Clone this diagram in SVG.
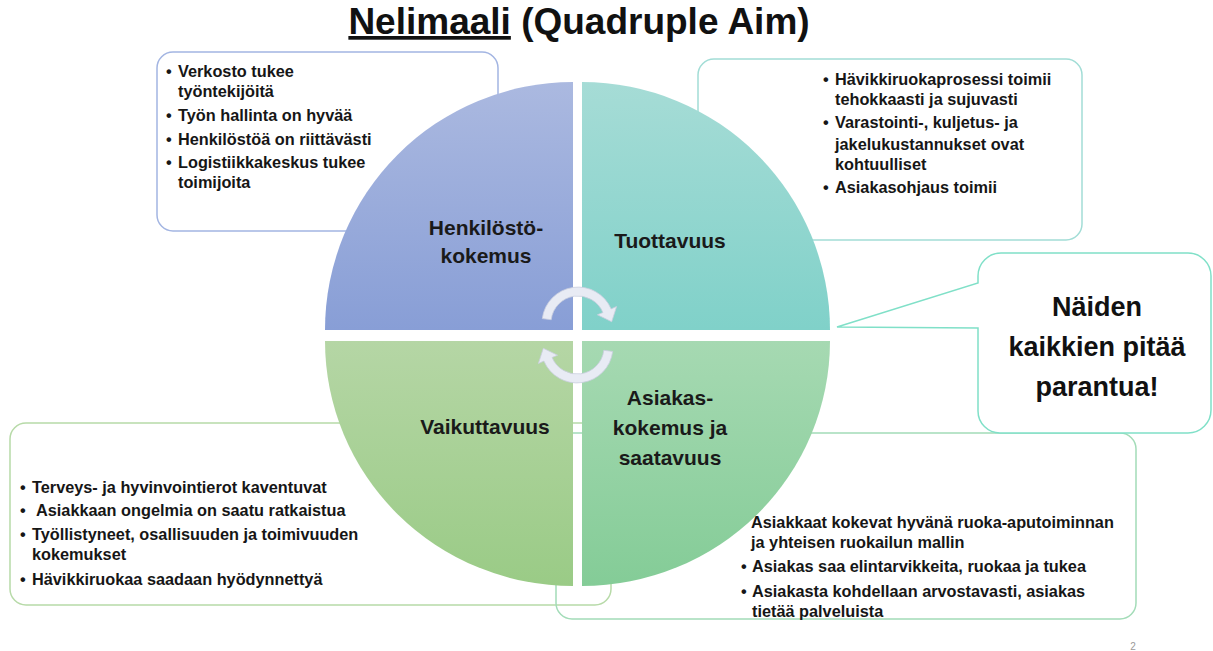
<svg xmlns="http://www.w3.org/2000/svg" width="1213" height="651" viewBox="0 0 1213 651">
<style>
  .box { fill: none; stroke-width: 1.5; }
  .t { font-family: "Liberation Sans", Arial, sans-serif; font-weight: bold; font-size: 16.3px; fill: #161616; }
  .lab { font-family: "Liberation Sans", Arial, sans-serif; font-weight: bold; font-size: 21px; fill: #1a1a1a; text-anchor: middle; }
  .arrow { fill: #e8ebf4; stroke: #c9cede; stroke-width: 0.8; }
</style>
<defs>
  <linearGradient id="gTL" x1="0" y1="0" x2="0" y2="1">
    <stop offset="0" stop-color="#abb9e0"/>
    <stop offset="1" stop-color="#889ed6"/>
  </linearGradient>
  <linearGradient id="gTR" x1="0" y1="0" x2="0" y2="1">
    <stop offset="0" stop-color="#a6dcd6"/>
    <stop offset="1" stop-color="#80d1c9"/>
  </linearGradient>
  <linearGradient id="gBL" x1="0" y1="0" x2="0" y2="1">
    <stop offset="0" stop-color="#b5d6a5"/>
    <stop offset="1" stop-color="#9acb86"/>
  </linearGradient>
  <linearGradient id="gBR" x1="0" y1="0" x2="0" y2="1">
    <stop offset="0" stop-color="#a6d9b2"/>
    <stop offset="1" stop-color="#84cc97"/>
  </linearGradient>
</defs>
<rect width="1213" height="651" fill="#ffffff"/>

<g id="title">
  <text x="579" y="34" text-anchor="middle" font-family="'Liberation Sans', Arial, sans-serif" font-weight="bold" font-size="37" fill="#111"><tspan text-decoration="underline">Nelimaali</tspan> (Quadruple Aim)</text>
</g>

<g id="box-henkilosto">
  <rect class="box" x="157" y="52" width="341" height="179" rx="16" stroke="#a3b5e2"/>
  <text class="t" x="166" y="77">•</text><text class="t" x="178" y="77">Verkosto tukee</text>
  <text class="t" x="178" y="97">työntekijöitä</text>
  <text class="t" x="166" y="121">•</text><text class="t" x="178" y="121">Työn hallinta on hyvää</text>
  <text class="t" x="166" y="145">•</text><text class="t" x="178" y="145">Henkilöstöä on riittävästi</text>
  <text class="t" x="166" y="168">•</text><text class="t" x="178" y="168">Logistiikkakeskus tukee</text>
  <text class="t" x="178" y="188">toimijoita</text>
</g>

<g id="box-tuottavuus">
  <rect class="box" x="698" y="59" width="384" height="181" rx="16" stroke="#a2ddd6"/>
  <text class="t" x="823" y="85">•</text><text class="t" x="835" y="85">Hävikkiruokaprosessi toimii</text>
  <text class="t" x="835" y="105">tehokkaasti ja sujuvasti</text>
  <text class="t" x="823" y="128">•</text><text class="t" x="835" y="128">Varastointi-, kuljetus- ja</text>
  <text class="t" x="835" y="150">jakelukustannukset ovat</text>
  <text class="t" x="835" y="170">kohtuulliset</text>
  <text class="t" x="823" y="193">•</text><text class="t" x="835" y="193">Asiakasohjaus toimii</text>
</g>

<g id="box-vaikuttavuus">
  <rect class="box" x="10" y="423" width="601" height="182" rx="16" stroke="#b7daa8"/>
  <text class="t" x="20" y="493">•</text><text class="t" x="32" y="493">Terveys- ja hyvinvointierot kaventuvat</text>
  <text class="t" x="20" y="516">•</text><text class="t" x="36" y="516">Asiakkaan ongelmia on saatu ratkaistua</text>
  <text class="t" x="20" y="540">•</text><text class="t" x="32" y="540">Työllistyneet, osallisuuden ja toimivuuden</text>
  <text class="t" x="32" y="560">kokemukset</text>
  <text class="t" x="20" y="585">•</text><text class="t" x="32" y="585">Hävikkiruokaa saadaan hyödynnettyä</text>
</g>

<g id="box-asiakaskokemus">
  <rect class="box" x="556" y="433" width="580" height="186" rx="16" stroke="#a3dcb8"/>
  <text class="t" x="751" y="528">Asiakkaat kokevat hyvänä ruoka-aputoiminnan</text>
  <text class="t" x="751" y="548">ja yhteisen ruokailun mallin</text>
  <text class="t" x="741" y="572">•</text><text class="t" x="752" y="572">Asiakas saa elintarvikkeita, ruokaa ja tukea</text>
  <text class="t" x="741" y="597">•</text><text class="t" x="752" y="597">Asiakasta kohdellaan arvostavasti, asiakas</text>
  <text class="t" x="752" y="617">tietää palveluista</text>
</g>

<g id="q-henkilosto">
  <path d="M573 330 L325 330 A248 248 0 0 1 573 82 Z" fill="url(#gTL)"/>
  <text class="lab" x="486" y="235">Henkilöstö-</text>
  <text class="lab" x="486" y="263">kokemus</text>
</g>
<g id="q-tuottavuus">
  <path d="M582 330 L582 82 A248 248 0 0 1 830 330 Z" fill="url(#gTR)"/>
  <text class="lab" x="670" y="248">Tuottavuus</text>
</g>
<g id="q-vaikuttavuus">
  <path d="M573 341 L573 586 A248 245 0 0 1 325 341 Z" fill="url(#gBL)"/>
  <text class="lab" x="485" y="434">Vaikuttavuus</text>
</g>
<g id="q-asiakaskokemus">
  <path d="M582 341 L830 341 A248 245 0 0 1 582 586 Z" fill="url(#gBR)"/>
  <text class="lab" x="670" y="405">Asiakas-</text>
  <text class="lab" x="670" y="435">kokemus ja</text>
  <text class="lab" x="670" y="465">saatavuus</text>
</g>

<g id="cycle-arrows">
  <path class="arrow" d="M542.3 318.6 A36 36 0 0 1 611.1 308.9 L616.6 306.5 L611.7 321.7 L597.4 314.8 L602.9 312.5 A27 27 0 0 0 551.2 319.7 Z"/>
  <path class="arrow" transform="rotate(180 577.5 335)" d="M542.3 318.6 A36 36 0 0 1 611.1 308.9 L616.6 306.5 L611.7 321.7 L597.4 314.8 L602.9 312.5 A27 27 0 0 0 551.2 319.7 Z"/>
</g>

<g id="callout">
  <path d="M1001 253 H1188 A23 23 0 0 1 1211 276 V410 A23 23 0 0 1 1188 433 H1000 A22 22 0 0 1 978 411 V328 L837 327 L978 283 V276 A23 23 0 0 1 1001 253 Z" fill="#ffffff" stroke="#80e0c8" stroke-width="1.5"/>
  <text x="1097" y="316" text-anchor="middle" font-family="'Liberation Sans', Arial, sans-serif" font-weight="bold" font-size="27" fill="#111">Näiden</text>
  <text x="1097" y="356" text-anchor="middle" font-family="'Liberation Sans', Arial, sans-serif" font-weight="bold" font-size="27" fill="#111">kaikkien pitää</text>
  <text x="1097" y="396" text-anchor="middle" font-family="'Liberation Sans', Arial, sans-serif" font-weight="bold" font-size="27" fill="#111">parantua!</text>
</g>

<g id="page-number">
  <text x="1133" y="650" text-anchor="middle" font-family="'Liberation Sans', Arial, sans-serif" font-size="10" fill="#9a9a9a">2</text>
</g>
</svg>
